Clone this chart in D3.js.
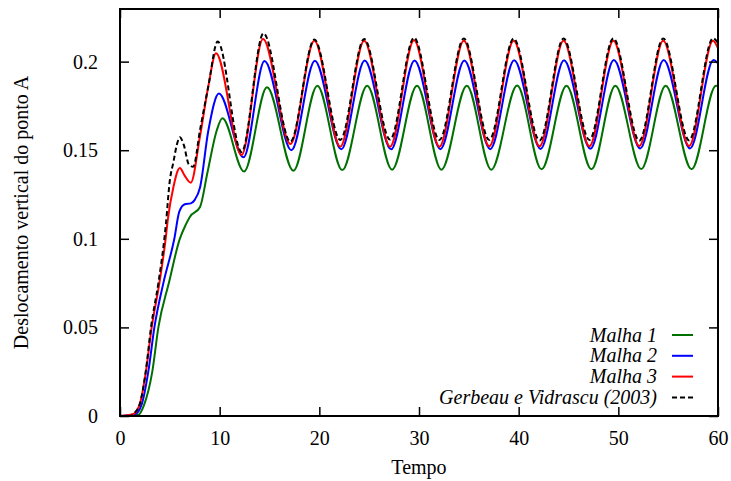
<!DOCTYPE html>
<html>
<head>
<meta charset="utf-8">
<script src="https://cdn.jsdelivr.net/npm/d3@7"></script>
<style>
  html, body { margin: 0; padding: 0; background: #fff; }
  svg { display: block; }
</style>
</head>
<body>
<svg id="chart" width="731" height="481"></svg>
<script>
// ---- data ----
const xTicks = [0, 10, 20, 30, 40, 50, 60];
const yTicks = [0, 0.05, 0.1, 0.15, 0.2];
const xTickLabels = ["0", "10", "20", "30", "40", "50", "60"];
const yTickLabels = ["0", "0.05", "0.1", "0.15", "0.2"];

const seriesNames = ["Malha 1", "Malha 2", "Malha 3", "Gerbeau e Vidrascu (2003)"];

// Malha 1 (green)
const tMalha1 = [0, 1.8, 2.4, 3.24, 3.85, 4.9, 6.0, 6.6, 7.02, 8.03, 8.76, 9.7, 10.27, 12.45, 14.75, 17.4, 19.8, 22.3, 24.8, 27.3, 29.8, 32.25, 34.8, 37.25, 39.85, 42.3, 44.8, 47.3, 49.7, 52.3, 54.75, 57.35, 59.8, 60];
const vMalha1 = [0, 0.0005, 0.006, 0.025, 0.05, 0.075, 0.1, 0.108, 0.1125, 0.118, 0.137, 0.161, 0.168, 0.138, 0.1855, 0.1384, 0.1864, 0.1388, 0.1864, 0.1390, 0.1864, 0.1390, 0.1864, 0.1390, 0.1865, 0.1392, 0.1864, 0.1392, 0.1864, 0.1394, 0.1864, 0.1393, 0.1864, 0.1862];

// Malha 2 (blue)
const tMalha2 = [0, 1.5, 2.2, 2.84, 3.45, 4.35, 5.45, 5.95, 6.5, 7.1, 7.5, 8.03, 8.86, 9.93, 12.4, 14.5, 17.2, 19.55, 22.2, 24.55, 27.2, 29.55, 32.15, 34.55, 37.15, 39.55, 42.2, 44.55, 47.2, 49.55, 52.2, 54.55, 57.2, 59.55, 60];
const vMalha2 = [0, 0.001, 0.007, 0.025, 0.05, 0.075, 0.1, 0.1153, 0.1195, 0.120, 0.122, 0.129, 0.161, 0.182, 0.146, 0.2003, 0.150, 0.2005, 0.1505, 0.2006, 0.1505, 0.2007, 0.1506, 0.2007, 0.1506, 0.2008, 0.1507, 0.2008, 0.1508, 0.2009, 0.1510, 0.2009, 0.1510, 0.2009, 0.1990];

// Malha 3 (red)
const tMalha3 = [0, 1.3, 2.0, 2.6, 3.18, 3.95, 4.58, 4.8, 5.35, 6.0, 6.5, 7.1, 8.03, 8.86, 9.63, 12.2, 14.35, 17.1, 19.5, 22.1, 24.5, 27.1, 29.5, 32.05, 34.5, 37.05, 39.5, 42.1, 44.5, 47.1, 49.5, 52.1, 54.5, 57.1, 59.5, 60];
const vMalha3 = [0, 0.001, 0.007, 0.025, 0.05, 0.075, 0.1, 0.111, 0.129, 0.140, 0.1355, 0.1317, 0.158, 0.186, 0.2047, 0.1473, 0.2127, 0.1535, 0.2118, 0.152, 0.2118, 0.152, 0.2120, 0.152, 0.2118, 0.1522, 0.2118, 0.1522, 0.2118, 0.1522, 0.2118, 0.1524, 0.2118, 0.1524, 0.2118, 0.2075];

// Gerbeau e Vidrascu (2003) (black dashed)
const tGerbeau = [0, 1.0, 1.5, 2.0, 2.58, 3.11, 3.85, 4.45, 4.6, 5.0, 5.35, 5.7, 6.0, 6.4, 6.9, 7.35, 8.03, 8.86, 9.8, 12.2, 14.4, 17.1, 19.5, 22.1, 24.5, 27.1, 29.5, 32.05, 34.5, 37.05, 39.5, 42.1, 44.5, 47.1, 49.5, 52.1, 54.5, 57.1, 59.5, 60];
const vGerbeau = [0, 0, 0.002, 0.007, 0.025, 0.05, 0.075, 0.1, 0.108, 0.133, 0.143, 0.153, 0.1573, 0.153, 0.142, 0.1407, 0.1614, 0.186, 0.2113, 0.149, 0.216, 0.1548, 0.2125, 0.1558, 0.2128, 0.156, 0.2135, 0.1558, 0.2130, 0.1558, 0.2130, 0.1555, 0.2130, 0.1558, 0.2131, 0.1554, 0.2131, 0.1556, 0.2132, 0.2105];

const colors = ["#007000", "#0000ff", "#ff0000", "#000000"];

// ---- layout ----
const FONT = "'Liberation Serif', 'DejaVu Serif', 'Nimbus Roman', FreeSerif, 'Times New Roman', Times, serif";
const svg = d3.select("#chart").style("font-family", FONT);
const L = 120, R = 718, T = 9, B = 416;

const x = d3.scaleLinear().domain([0, 60]).range([L, R]);
const y = d3.scaleLinear().domain([0, 0.2297]).range([B, T]);

const series = [
  { name: seriesNames[0], t: tMalha1, v: vMalha1, color: colors[0], dash: null },
  { name: seriesNames[1], t: tMalha2, v: vMalha2, color: colors[1], dash: null },
  { name: seriesNames[2], t: tMalha3, v: vMalha3, color: colors[2], dash: null },
  { name: seriesNames[3], t: tGerbeau, v: vGerbeau, color: colors[3], dash: "5,3" }
];

svg.append("clipPath").attr("id", "clip")
  .append("rect").attr("x", L).attr("y", T).attr("width", R - L).attr("height", B - T);

const line = d3.line()
  .x(d => x(d[0]))
  .y(d => y(d[1]))
  .curve(d3.curveMonotoneX);

const g = svg.append("g").attr("clip-path", "url(#clip)");
series.forEach(s => {
  const pts = s.t.map((t, i) => [t, s.v[i]]);
  g.append("path")
    .datum(pts)
    .attr("fill", "none")
    .attr("stroke", s.color)
    .attr("stroke-width", 2)
    .attr("stroke-dasharray", s.dash)
    .attr("d", line);
});

const tickLen = 9;
const fontSize = 20;

const xAxisB = d3.axisBottom(x).tickValues(xTicks).tickSize(-tickLen).tickPadding(tickLen + 6)
  .tickFormat((d, i) => xTickLabels[i]);
const gxB = svg.append("g").attr("transform", `translate(0,${B})`).call(xAxisB);
const xAxisT = d3.axisTop(x).tickValues(xTicks).tickSize(-tickLen).tickFormat("");
const gxT = svg.append("g").attr("transform", `translate(0,${T})`).call(xAxisT);

const yAxisL = d3.axisLeft(y).tickValues(yTicks).tickSize(-tickLen).tickPadding(tickLen + 13)
  .tickFormat((d, i) => yTickLabels[i]);
const gyL = svg.append("g").attr("transform", `translate(${L},0)`).call(yAxisL);
const yAxisR = d3.axisRight(y).tickValues(yTicks).tickSize(-tickLen).tickFormat("");
const gyR = svg.append("g").attr("transform", `translate(${R},0)`).call(yAxisR);

[gxB, gxT, gyL, gyR].forEach(a => {
  a.attr("font-family", FONT).attr("font-size", fontSize);
  a.select(".domain").remove();
  a.selectAll(".tick line").attr("stroke", "#000").attr("stroke-width", 1.5);
  a.selectAll(".tick text").attr("fill", "#000");
});

svg.append("rect")
  .attr("x", L).attr("y", T).attr("width", R - L).attr("height", B - T)
  .attr("fill", "none").attr("stroke", "#000").attr("stroke-width", 2);

svg.append("text")
  .attr("x", (L + R) / 2).attr("y", 474)
  .attr("text-anchor", "middle").attr("font-size", fontSize)
  .attr("font-family", FONT)
  .text("Tempo");

svg.append("text")
  .attr("transform", `translate(28,${(T + B) / 2}) rotate(-90)`)
  .attr("text-anchor", "middle").attr("font-size", fontSize)
  .attr("font-family", FONT)
  .text("Deslocamento vertical do ponto A");

const legY0 = 335, legDy = 20.8;
const leg = svg.append("g");
series.forEach((s, i) => {
  const yy = legY0 + i * legDy;
  leg.append("text")
    .attr("x", 657).attr("y", yy).attr("dy", "0.33em")
    .attr("text-anchor", "end").attr("font-size", fontSize)
    .attr("font-family", FONT)
    .attr("font-style", "italic")
    .text(s.name);
  leg.append("line")
    .attr("x1", 672).attr("x2", 693).attr("y1", yy).attr("y2", yy)
    .attr("stroke", s.color).attr("stroke-width", 2)
    .attr("stroke-dasharray", s.dash);
});
</script>
</body>
</html>
